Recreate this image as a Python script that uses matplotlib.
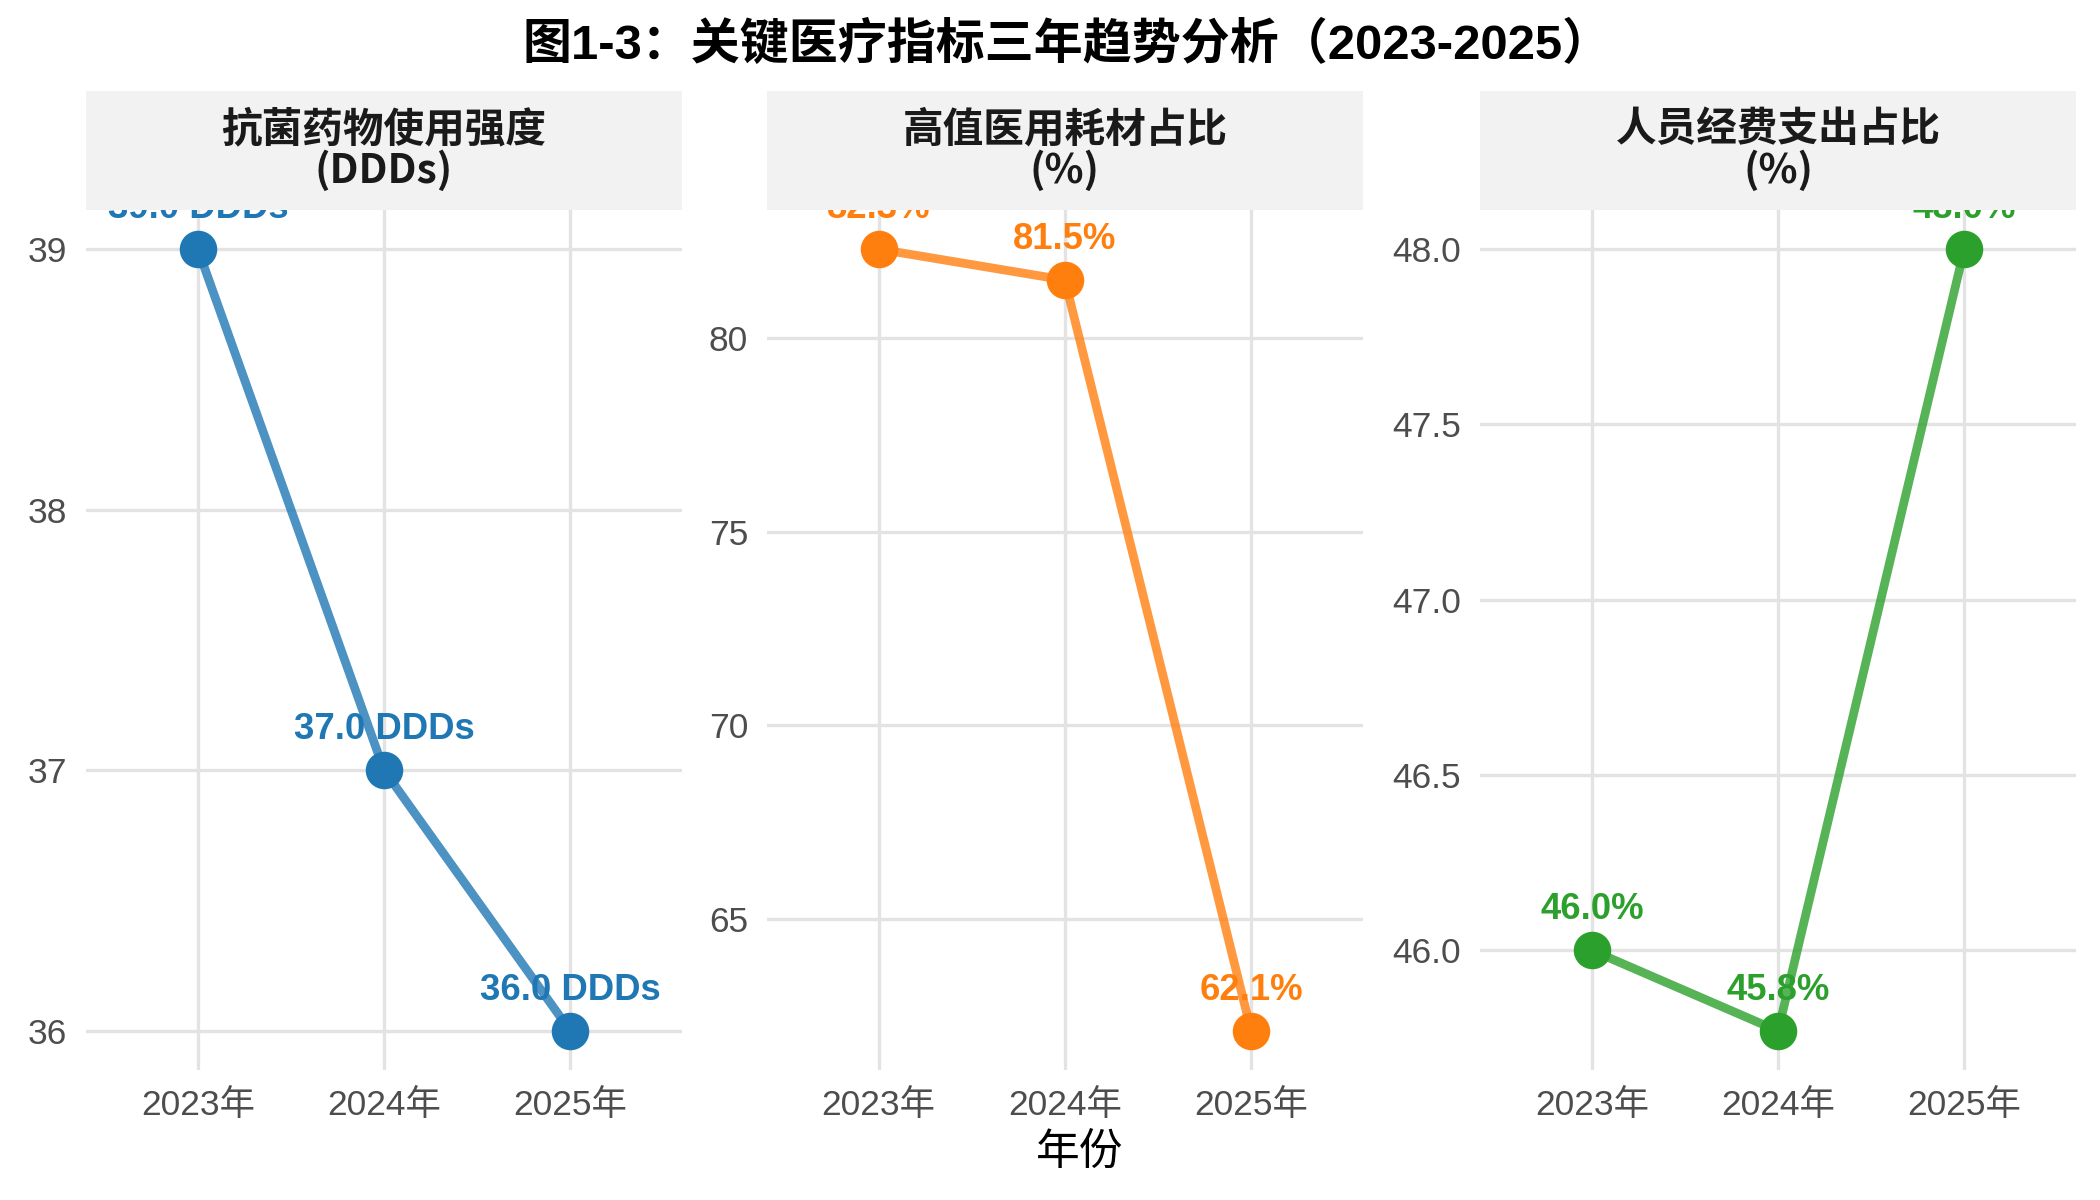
import matplotlib
matplotlib.use('Agg')
import matplotlib.pyplot as plt
from matplotlib.ticker import MultipleLocator, FormatStrFormatter

plt.rcParams['font.family'] = ['Liberation Sans', 'Noto Sans CJK SC']

years = ['2023年', '2024年', '2025年']
panel_titles = ['抗菌药物使用强度\n(DDDs)', '高值医用耗材占比\n(%)', '人员经费支出占比\n(%)']
antibiotic = [39.0, 37.0, 36.0]
consumables = [82.3, 81.5, 62.1]
personnel = [46.0, 45.77, 48.0]
series = [antibiotic, consumables, personnel]
units = [' DDDs', '%', '%']
colors = ['#1f77b4', '#ff7f0e', '#2ca02c']
steps = [1, 5, 0.5]
fmts = ['%d', '%d', '%.1f']

fig = plt.figure(figsize=(14, 8), dpi=150)
lefts = [0.041, 0.3652, 0.7048]
w = 0.2838
bottom, height = 0.1083, 0.7167

for k in range(3):
    ax = fig.add_axes([lefts[k], bottom, w, height])
    vals = series[k]
    x = list(range(len(years)))
    ax.plot(x, vals, color=colors[k], lw=4.2, alpha=0.8, zorder=2)
    ax.plot(x, vals, 'o', color=colors[k], ms=17, zorder=3)
    for i, v in enumerate(vals):
        ax.annotate(f'{v:.1f}{units[k]}', (i, v), xytext=(0, 15), textcoords='offset points',
                    ha='center', va='baseline', fontsize=17.5, fontweight='bold',
                    color=colors[k], annotation_clip=False, zorder=4)
    ax.set_xlim(-0.6, 2.6)
    ax.set_xticks(x)
    ax.set_xticklabels(years)
    ax.yaxis.set_major_locator(MultipleLocator(steps[k]))
    ax.yaxis.set_major_formatter(FormatStrFormatter(fmts[k]))
    ax.margins(y=0.05)
    ax.grid(True, color='#e3e3e3', lw=1.6)
    ax.set_axisbelow(True)
    for s in ax.spines.values():
        s.set_visible(False)
    ax.tick_params(length=0, labelsize=17, labelcolor='#4d4d4d')
    ax.tick_params(axis='x', pad=9)
    ax.tick_params(axis='y', pad=9)

    sx = fig.add_axes([lefts[k], 0.825, w, 0.099], zorder=5)
    sx.set_facecolor('#f2f2f2')
    sx.set_xticks([])
    sx.set_yticks([])
    for s in sx.spines.values():
        s.set_visible(False)
    sx.text(0.5, 0.5, panel_titles[k], ha='center', va='center', fontsize=19.5,
            fontweight='bold', color='#1a1a1a', linespacing=1.0,
            family=['Noto Sans CJK SC', 'DejaVu Sans'])

fig.text(0.508, 0.962, '图1-3：关键医疗指标三年趋势分析（2023-2025）', ha='center', va='center',
         fontsize=23.5, fontweight='bold')
fig.text(0.514, 0.038, '年份', ha='center', va='center', fontsize=21)

fig.savefig('out.png', dpi=150)
